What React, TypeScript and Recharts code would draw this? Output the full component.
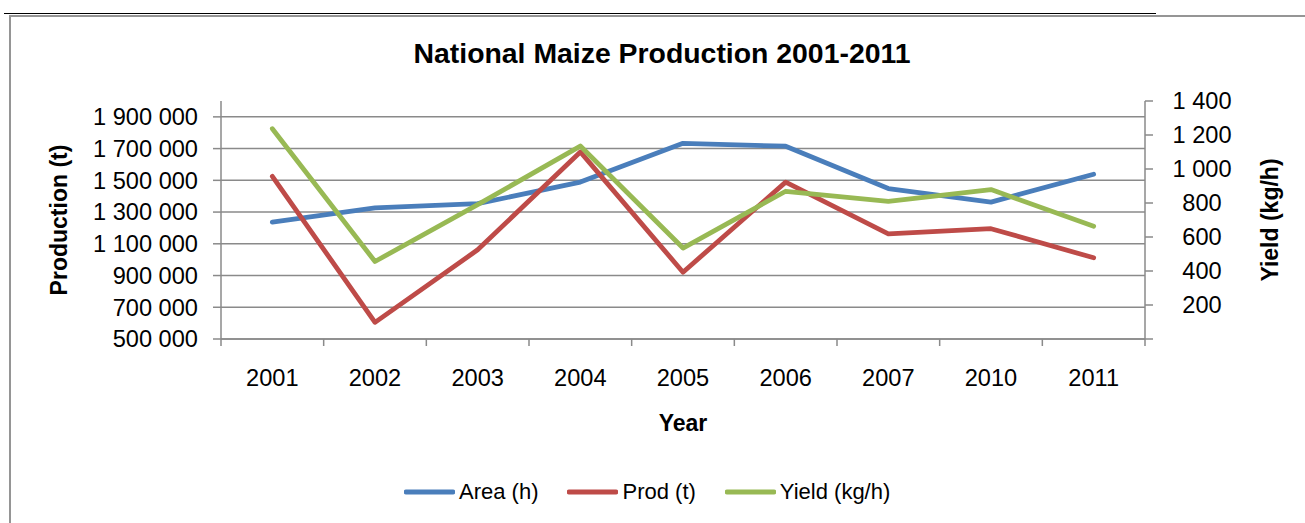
import React from 'react';
import { ComposedChart, Line, XAxis, YAxis, CartesianGrid, Legend, Label } from 'recharts';

const YEARS = ['2001', '2002', '2003', '2004', '2005', '2006', '2007', '2010', '2011'];
const AREA = [1237000, 1327000, 1353000, 1489000, 1733000, 1715000, 1448000, 1363000, 1538000];
const PROD = [1525000, 605000, 1062000, 1679000, 921000, 1489000, 1163000, 1195000, 1012000];
const YIELD = [1237, 456, 790, 1135, 535, 869, 810, 879, 663];

const LEFT_TICKS = [500000, 700000, 900000, 1100000, 1300000, 1500000, 1700000, 1900000];
const RIGHT_TICKS = [0, 200, 400, 600, 800, 1000, 1200, 1400];

const SERIES = [
  { key: 'area', name: 'Area (h)', color: '#4A7EBB', axis: 'left' },
  { key: 'prod', name: 'Prod (t)', color: '#BE4B48', axis: 'left' },
  { key: 'yield', name: 'Yield (kg/h)', color: '#98B954', axis: 'right' },
];

const data = YEARS.map((year, i) => ({ year, area: AREA[i], prod: PROD[i], yield: YIELD[i] }));

const FONT = '"Liberation Sans", Arial, sans-serif';
const GRAY = '#8a8a8a';
const W = 1305;
const H = 523;
const LEFT_W = 221;
const RIGHT_W = 160;
const BAND = (W - LEFT_W - RIGHT_W) / YEARS.length;
const TICK_FS = 23.6;

const fmt = (v: number) => String(v).replace(/\B(?=(\d{3})+(?!\d))/g, ' ');

const XTick = (props: any) => {
  const { x, y, payload, index } = props;
  const half = BAND / 2;
  return (
    <g>
      <line x1={x - half} x2={x - half} y1={y} y2={y + 7} stroke={GRAY} strokeWidth={1.5} />
      {index === YEARS.length - 1 && (
        <line x1={x + half} x2={x + half} y1={y} y2={y + 7} stroke={GRAY} strokeWidth={1.5} />
      )}
      <text x={x} y={y + 46.5} textAnchor="middle" fill="#000" fontSize={TICK_FS} fontFamily={FONT}>
        {payload.value}
      </text>
    </g>
  );
};

const RightTick = (props: any) => {
  const { x, y, payload } = props;
  if (payload.value === 0) return <g />;
  return (
    <text x={x + 45} y={y} dy={8} textAnchor="middle" fill="#000" fontSize={TICK_FS} fontFamily={FONT}>
      {fmt(payload.value)}
    </text>
  );
};

const LegendContent = () => (
  <div style={{ display: 'flex', alignItems: 'center', fontFamily: FONT, fontSize: 22, color: '#000', whiteSpace: 'nowrap' }}>
    {SERIES.map((s, i) => (
      <div key={s.key} style={{ display: 'flex', alignItems: 'center', marginRight: i < SERIES.length - 1 ? 29 : 0 }}>
        <svg width={51} height={8} style={{ marginRight: 4 }}>
          <line x1={2} x2={49} y1={4} y2={4} stroke={s.color} strokeWidth={4.8} strokeLinecap="round" />
        </svg>
        <span>{s.name}</span>
      </div>
    ))}
  </div>
);

export default function App() {
  return (
    <div style={{ position: 'absolute', left: 0, top: 0, width: W, height: H, background: '#fff', overflow: 'hidden' }}>
      <div style={{ position: 'absolute', left: 4, top: 13, width: 1152, height: 1, background: '#000' }} />
      <div style={{ position: 'absolute', left: 9, top: 15, width: W - 9, height: 2, background: '#959595' }} />
      <div style={{ position: 'absolute', left: 9, top: 15, width: 2, height: H - 15, background: '#959595' }} />
      <div
        style={{
          position: 'absolute',
          left: 662,
          top: 38.5,
          transform: 'translateX(-50%)',
          whiteSpace: 'nowrap',
          fontFamily: FONT,
          fontWeight: 'bold',
          fontSize: 28.4,
          lineHeight: '28px',
          color: '#000',
        }}
      >
        National Maize Production 2001-2011
      </div>
      <div style={{ position: 'absolute', left: 0, top: 0 }}>
        <ComposedChart width={W} height={H} data={data} margin={{ top: 101, right: 0, bottom: 0, left: 0 }}>
          <CartesianGrid
            yAxisId="left"
            horizontal
            vertical={false}
            horizontalValues={LEFT_TICKS}
            stroke={GRAY}
            strokeWidth={1.5}
          />
          <XAxis
            dataKey="year"
            type="category"
            scale="band"
            height={184}
            axisLine={{ stroke: GRAY, strokeWidth: 1.5 }}
            tickLine={false}
            tickSize={0}
            tickMargin={0}
            tick={<XTick />}
            interval={0}
          >
            <Label
              value="Year"
              position="center"
              dy={-8}
              style={{ fontFamily: FONT, fontSize: 23, fontWeight: 'bold', fill: '#000' }}
            />
          </XAxis>
          <YAxis
            yAxisId="left"
            orientation="left"
            width={LEFT_W}
            domain={[500000, 2000000]}
            ticks={LEFT_TICKS}
            interval={0}
            tickFormatter={fmt}
            axisLine={{ stroke: GRAY, strokeWidth: 1.5 }}
            tickLine={{ stroke: GRAY, strokeWidth: 1.5 }}
            tickSize={8}
            tickMargin={15}
            tick={{ fill: '#000', fontSize: TICK_FS, fontFamily: FONT }}
          >
            <Label
              value="Production (t)"
              position="center"
              angle={-90}
              dx={-51.5}
              style={{ fontFamily: FONT, fontSize: 23, fontWeight: 'bold', fill: '#000', textAnchor: 'middle' }}
            />
          </YAxis>
          <YAxis
            yAxisId="right"
            orientation="right"
            width={RIGHT_W}
            domain={[0, 1400]}
            ticks={RIGHT_TICKS}
            interval={0}
            axisLine={{ stroke: GRAY, strokeWidth: 1.5 }}
            tickLine={{ stroke: GRAY, strokeWidth: 1.5 }}
            tickSize={8}
            tickMargin={4}
            tick={<RightTick />}
          >
            <Label
              value="Yield (kg/h)"
              position="center"
              angle={-90}
              dx={45}
              style={{ fontFamily: FONT, fontSize: 23, fontWeight: 'bold', fill: '#000', textAnchor: 'middle' }}
            />
          </YAxis>
          <Legend
            layout="horizontal"
            verticalAlign="middle"
            align="center"
            wrapperStyle={{ left: 404, top: 479, width: 620, height: 26 }}
            content={<LegendContent />}
          />
          {SERIES.map((s) => (
            <Line
              key={s.key}
              type="linear"
              dataKey={s.key}
              name={s.name}
              yAxisId={s.axis}
              stroke={s.color}
              strokeWidth={4.8}
              strokeLinecap="round"
              strokeLinejoin="round"
              dot={false}
              activeDot={false}
              isAnimationActive={false}
            />
          ))}
        </ComposedChart>
      </div>
    </div>
  );
}
